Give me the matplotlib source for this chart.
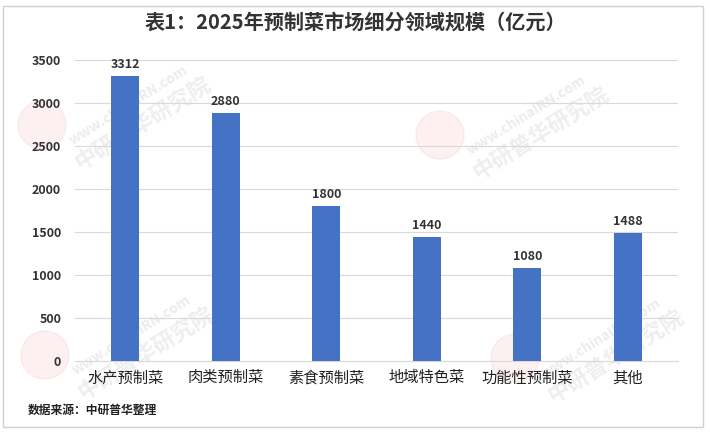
import matplotlib
matplotlib.use('Agg')
import matplotlib.pyplot as plt
import matplotlib.patches as mpatches

plt.rcParams['font.family'] = ['Noto Sans CJK SC', 'DejaVu Sans']

# data
categories = ['水产预制菜', '肉类预制菜', '素食预制菜', '地域特色菜', '功能性预制菜', '其他']
values = [3312, 2880, 1800, 1440, 1080, 1488]
yticks = [0, 500, 1000, 1500, 2000, 2500, 3000, 3500]

title = '表1：2025年预制菜市场细分领域规模（亿元）'
source = '数据来源：中研普华整理'

fig = plt.figure(figsize=(7.1, 4.33), dpi=100)
ax = fig.add_axes([75 / 710, 1 - 361 / 433, 603 / 710, 301 / 433])
ax.patch.set_visible(False)

x = range(len(categories))
bars = ax.bar(x, values, width=0.28, color='#4472C4', zorder=3)
for b, v in zip(bars, values):
    ax.text(b.get_x() + b.get_width() / 2, v + 60, str(v), ha='center', va='bottom',
            fontsize=9, fontweight='bold', color='#333333', zorder=4)

ax.set_xlim(-0.5, len(categories) - 0.5)
ax.set_ylim(0, 3500)
ax.set_yticks(yticks)
ax.set_yticklabels([str(t) for t in yticks], fontsize=9, fontweight='bold', color='#333333')
ax.set_xticks(list(x))
ax.set_xticklabels(categories, fontsize=11, color='#222222')
ax.tick_params(axis='both', length=0)
ax.tick_params(axis='y', pad=10)
ax.tick_params(axis='x', pad=6)
ax.grid(axis='y', color='#d9d9d9', linewidth=0.8, zorder=0)
for s in ['top', 'right', 'left']:
    ax.spines[s].set_visible(False)
ax.spines['bottom'].set_color('#d9d9d9')

# watermarks (pixel centres of the logo circles)
for px, py in [(42, 125), (440, 135), (45, 355), (515, 358)]:
    fig.patches.append(mpatches.Circle((px, 433 - py), 24, transform=None,
                                       color='#f4c4c4', alpha=0.25, zorder=-2))
    fig.text((px + 25) / 710, (433 - py + 20) / 433, 'www.chinaIRN.com', rotation=32,
             fontsize=10, fontweight='bold', color='#ececec', ha='left', va='center', zorder=-1)
    fig.text((px + 28) / 710, (433 - py + 2) / 433, '中研普华研究院', rotation=32, fontsize=16,
             fontweight='bold', color='#eeeeee', ha='left', va='center', zorder=-1)

fig.text(0.5, 1 - 22 / 433, title, ha='center', va='center', fontsize=14.5,
         fontweight='bold', color='#333333')
fig.text(28 / 710, 1 - 410 / 433, source, ha='left', va='center', fontsize=8.5,
         fontweight='bold', color='#222222')

fig.patches.append(mpatches.Rectangle((3, 6), 700, 421, transform=None, fill=False,
                                      edgecolor='#d0d0d0', linewidth=1))

fig.savefig('out.png', dpi=100)
